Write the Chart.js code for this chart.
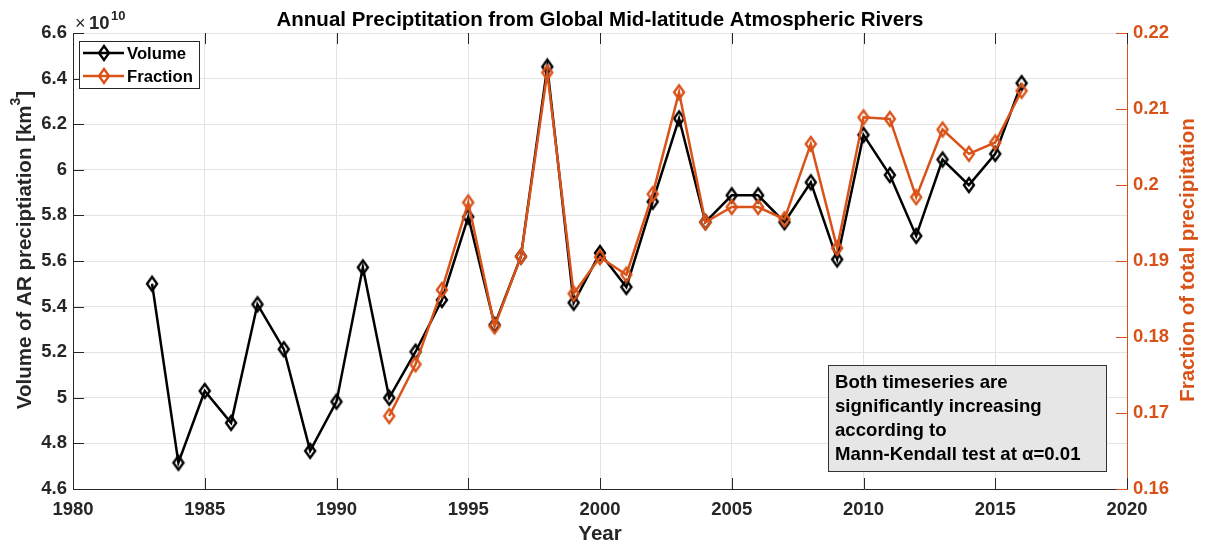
<!DOCTYPE html>
<html>
<head>
<meta charset="utf-8">
<script src="https://cdn.jsdelivr.net/npm/chart.js@4.4.0/dist/chart.umd.min.js"></script>
<style>
  html, body { margin: 0; padding: 0; background: #fff; }
  canvas { display: block; }
</style>
</head>
<body>
<canvas id="arChart" width="1208" height="546"></canvas>
<script>
// values
const years = [1983, 1984, 1985, 1986, 1987, 1988, 1989, 1990, 1991, 1992, 1993, 1994,
  1995, 1996, 1997, 1998, 1999, 2000, 2001, 2002, 2003, 2004, 2005, 2006, 2007, 2008,
  2009, 2010, 2011, 2012, 2013, 2014, 2015, 2016];
// volume of AR precipitation, in units of 1e10 km^3
const volume = [5.50, 4.715, 5.03, 4.89, 5.41, 5.213, 4.767, 4.983, 5.572, 5.00, 5.202, 5.429,
  5.794, 5.32, 5.62, 6.452, 5.417, 5.635, 5.486, 5.86, 6.225, 5.771, 5.888, 5.888, 5.77, 5.945,
  5.607, 6.153, 5.977, 5.71, 6.045, 5.933, 6.07, 6.38];
const fractionYears = [1992, 1993, 1994, 1995, 1996, 1997, 1998, 1999, 2000, 2001, 2002, 2003,
  2004, 2005, 2006, 2007, 2008, 2009, 2010, 2011, 2012, 2013, 2014, 2015, 2016];
const fraction = [0.1696, 0.1764, 0.1862, 0.1977, 0.1814, 0.1906, 0.2148, 0.1857, 0.1905, 0.1882,
  0.1988, 0.2122, 0.1951, 0.1971, 0.1971, 0.1955, 0.2054, 0.1917, 0.2089, 0.2087, 0.1984, 0.2073,
  0.2041, 0.2056, 0.2124];

const yearTicks = [1980, 1985, 1990, 1995, 2000, 2005, 2010, 2015, 2020];
const volumeTicks = [4.6, 4.8, 5, 5.2, 5.4, 5.6, 5.8, 6, 6.2, 6.4, 6.6];
const fractionTicks = [0.16, 0.17, 0.18, 0.19, 0.2, 0.21, 0.22];

const noteLines = ['Both timeseries are', 'significantly increasing', 'according to',
  'Mann-Kendall test at \u03b1=0.01'];

const orange = '#D95319';
const axisColor = '#262626';
const FONT = '"Liberation Sans", Arial, sans-serif';

// matlab style diamond marker (unfilled, a bit taller than wide)
function diamond(color) {
  const c = document.createElement('canvas');
  c.width = 16; c.height = 20;
  const g = c.getContext('2d');
  g.strokeStyle = color;
  g.lineWidth = 2.4;
  g.lineJoin = 'miter';
  g.beginPath();
  g.moveTo(8, 3); g.lineTo(13, 10); g.lineTo(8, 17); g.lineTo(3, 10);
  g.closePath();
  g.stroke();
  return c;
}
const blackDiamond = diamond('#000000');
const orangeDiamond = diamond(orange);

const decor = {
  id: 'decor',
  afterDraw(chart) {
    const { ctx, chartArea: a, scales } = chart;
    ctx.save();

    // ticks point inwards
    ctx.lineWidth = 1;
    ctx.strokeStyle = axisColor;
    ctx.beginPath();
    yearTicks.forEach(v => {
      const x = Math.round(scales.x.getPixelForValue(v)) + 0.5;
      ctx.moveTo(x, a.bottom); ctx.lineTo(x, a.bottom - 11);
      ctx.moveTo(x, a.top); ctx.lineTo(x, a.top + 11);
    });
    volumeTicks.forEach(v => {
      const y = Math.round(scales.y.getPixelForValue(v)) + 0.5;
      ctx.moveTo(a.left, y); ctx.lineTo(a.left + 11, y);
    });
    ctx.stroke();
    ctx.strokeStyle = orange;
    ctx.beginPath();
    fractionTicks.forEach(v => {
      const y = Math.round(scales.y1.getPixelForValue(v)) + 0.5;
      ctx.moveTo(a.right, y); ctx.lineTo(a.right - 11, y);
    });
    ctx.stroke();

    // title
    ctx.fillStyle = '#000';
    ctx.textAlign = 'center';
    ctx.textBaseline = 'middle';
    ctx.font = 'bold 20.5px ' + FONT;
    ctx.fillText('Annual Preciptitation from Global Mid-latitude Atmospheric Rivers', (a.left + a.right) / 2, 20);

    // x label
    ctx.fillStyle = axisColor;
    ctx.fillText('Year', (a.left + a.right) / 2, 534);

    // exponent
    ctx.textAlign = 'left';
    ctx.font = '18px ' + FONT;
    ctx.fillText('\u00d7', 75, 24);
    ctx.font = 'bold 18.5px ' + FONT;
    ctx.fillText('10', 89, 24);
    ctx.font = 'bold 13px ' + FONT;
    ctx.fillText('10', 111, 16);

    // left axis title, with superscript
    ctx.save();
    ctx.translate(25, 250);
    ctx.rotate(-Math.PI / 2);
    const big = 'bold 20.5px ' + FONT, small = 'bold 14px ' + FONT;
    const p1 = 'Volume of AR preciptiation [km', p2 = '3', p3 = ']';
    ctx.font = big; const w1 = ctx.measureText(p1).width, w3 = ctx.measureText(p3).width;
    ctx.font = small; const w2 = ctx.measureText(p2).width;
    let x0 = -(w1 + w2 + w3) / 2;
    ctx.textAlign = 'left';
    ctx.font = big; ctx.fillText(p1, x0, 0);
    ctx.font = small; ctx.fillText(p2, x0 + w1, -9);
    ctx.font = big; ctx.fillText(p3, x0 + w1 + w2, 0);
    ctx.restore();

    // right axis title
    ctx.save();
    ctx.translate(1188, 260);
    ctx.rotate(-Math.PI / 2);
    ctx.textAlign = 'center';
    ctx.fillStyle = orange;
    ctx.font = 'bold 20.5px ' + FONT;
    ctx.fillText('Fraction of total precipitation', 0, 0);
    ctx.restore();

    // legend box
    ctx.fillStyle = '#fff';
    ctx.fillRect(79, 41, 120, 47);
    ctx.strokeStyle = axisColor;
    ctx.lineWidth = 1;
    ctx.strokeRect(79.5, 41.5, 120, 47);
    const entries = chart.data.datasets;
    [53, 76].forEach((y, i) => {
      const ds = entries[i];
      ctx.strokeStyle = ds.borderColor;
      ctx.lineWidth = 2.5;
      ctx.beginPath(); ctx.moveTo(83, y); ctx.lineTo(124, y); ctx.stroke();
      ctx.drawImage(ds.pointStyle, 104 - 8, y - 10);
      ctx.fillStyle = '#000';
      ctx.font = 'bold 16.7px ' + FONT;
      ctx.textAlign = 'left';
      ctx.fillText(ds.label, 127, y + 1);
    });

    // annotation box
    ctx.fillStyle = '#e6e6e6';
    ctx.fillRect(828, 365, 278, 106);
    ctx.strokeStyle = '#333';
    ctx.lineWidth = 1;
    ctx.strokeRect(828.5, 365.5, 278, 106);
    ctx.fillStyle = '#000';
    ctx.font = 'bold 18.6px ' + FONT;
    ctx.textAlign = 'left';
    noteLines.forEach((t, i) => ctx.fillText(t, 835, 383 + i * 24));

    ctx.restore();
  }
};

const ctx = document.getElementById('arChart').getContext('2d');
new Chart(ctx, {
  type: 'line',
  data: {
    datasets: [{
      label: 'Volume',
      data: years.map((yr, i) => ({ x: yr, y: volume[i] })),
      borderColor: '#000000',
      borderWidth: 2.5,
      pointStyle: blackDiamond,
      pointRadius: 8,
      tension: 0,
      yAxisID: 'y',
      order: 1
    }, {
      label: 'Fraction',
      data: fractionYears.map((yr, i) => ({ x: yr, y: fraction[i] })),
      borderColor: orange,
      borderWidth: 2.5,
      pointStyle: orangeDiamond,
      pointRadius: 8,
      tension: 0,
      yAxisID: 'y1',
      order: 0
    }]
  },
  options: {
    responsive: false,
    animation: false,
    layout: { padding: { top: 33, left: 0, right: 0, bottom: 0 } },
    plugins: {
      legend: { display: false },
      tooltip: { enabled: false }
    },
    scales: {
      x: {
        type: 'linear',
        min: 1980,
        max: 2020,
        afterBuildTicks: s => { s.ticks = yearTicks.map(v => ({ value: v })); },
        afterFit: s => { s.height = 57; },
        grid: { color: '#e3e3e3', drawTicks: false },
        border: { color: axisColor, width: 1 },
        ticks: {
          padding: 10,
          color: axisColor,
          font: { family: FONT, size: 18.5, weight: 'bold' },
          callback: v => String(v)
        }
      },
      y: {
        position: 'left',
        min: 4.6,
        max: 6.6,
        afterBuildTicks: s => { s.ticks = volumeTicks.map(v => ({ value: v })); },
        afterFit: s => { s.width = 73; },
        grid: { color: '#e3e3e3', drawTicks: false },
        border: { color: axisColor, width: 1 },
        ticks: {
          padding: 6,
          color: axisColor,
          font: { family: FONT, size: 18.5, weight: 'bold' },
          callback: v => String(v)
        }
      },
      y1: {
        position: 'right',
        min: 0.16,
        max: 0.22,
        afterBuildTicks: s => { s.ticks = fractionTicks.map(v => ({ value: v })); },
        afterFit: s => { s.width = 81; },
        grid: { display: false, drawTicks: false },
        border: { color: orange, width: 1 },
        ticks: {
          padding: 6,
          color: orange,
          font: { family: FONT, size: 18.5, weight: 'bold' },
          callback: v => String(v)
        }
      }
    }
  },
  plugins: [decor]
});
</script>
</body>
</html>
